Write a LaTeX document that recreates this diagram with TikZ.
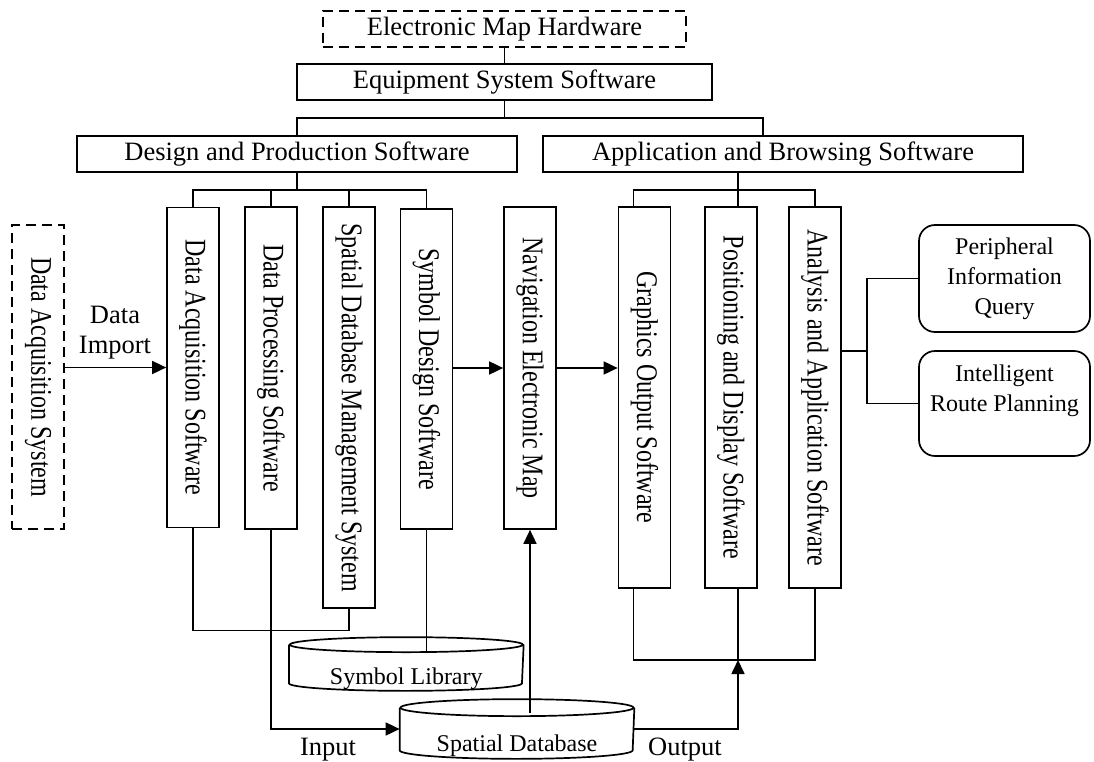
\documentclass[tikz,border=0pt]{standalone}
\usepackage{graphicx}
\usepackage{fontspec}
\setmainfont{Liberation Serif}
\usetikzlibrary{arrows.meta, calc}

% text running down a tall box
\newcommand{\vtext}[1]{\rotatebox{-90}{\fontsize{24}{28}\selectfont\scalebox{1}[1.25]{#1}}}

\begin{document}
\begin{tikzpicture}[
  x=1pt, y=-1pt,
  line width=1.7pt,
  every node/.style={font=\fontsize{26.5}{30}\selectfont, inner sep=0pt},
  small/.style={font=\fontsize{24}{30}\selectfont},
  box/.style={rectangle, draw, minimum height=36, align=center},
  vbox/.style={rectangle, draw, minimum width=52},
  rbox/.style={rectangle, draw, rounded corners=16pt, minimum width=171, align=center, small},
  dashy/.style={dash pattern=on 10pt off 6pt},
  arr/.style={-{Triangle[length=14pt, width=13pt]}}
]
\useasboundingbox (0,0) rectangle (1094,762);

% Top hierarchy
\node[box, dashy, minimum width=363] (hw) at (504.5,29) {Electronic Map Hardware};
\node[box, minimum width=415] (equip) at (504.5,82) {Equipment System Software};
\node[box, minimum width=440] (design) at (297,154) {Design and Production Software};
\node[box, minimum width=480] (app) at (783,154) {Application and Browsing Software};

% Vertical modules
\node[vbox, dashy, minimum height=304] (dasys) at (38,377) {\vtext{Data Acquisition System}};
\node[vbox, minimum height=320] (dacq) at (193,367.5) {\vtext{Data Acquisition Software}};
\node[vbox, minimum height=322] (dproc) at (271,368) {\vtext{Data Processing Software}};
\node[vbox, minimum height=401] (sdms) at (349,407.5) {\vtext{Spatial Database Management System}};
\node[vbox, minimum height=320] (symdes) at (426.5,369) {\vtext{Symbol Design Software}};
\node[vbox, minimum height=322] (nav) at (530,368) {\vtext{Navigation Electronic Map}};
\node[vbox, minimum height=381] (gout) at (644.5,397.5) {\vtext{Graphics Output Software}};
\node[vbox, minimum height=381] (posdisp) at (731,397.5) {\vtext{Positioning and Display Software}};
\node[vbox, minimum height=381] (anal) at (815,397.5) {\vtext{Analysis and Application Software}};

% Functions
\node[rbox, minimum height=107] (peri) at (1004.5,278.5) {Peripheral\\Information\\Query};
\node[rbox, minimum height=105] (route) at (1004.5,403.5) {Intelligent\\Route Planning\\\mbox{}};

% Databases
\node[minimum width=233, minimum height=37] (symlib) at (406.3,664) {};
\draw (symlib.north west) -- (symlib.south west)
  arc[start angle=180, end angle=360, x radius=116.5pt, y radius=7.5pt] -- (symlib.north east);
\draw (symlib.north) ellipse[x radius=116.5pt, y radius=7.5pt];
\node[small, anchor=base] (symlibtxt) at (406.3,684) {Symbol Library};

\node[minimum width=233, minimum height=41] (spdb) at (517,729) {};
\draw (spdb.north west) -- (spdb.south west)
  arc[start angle=180, end angle=360, x radius=116.5pt, y radius=8.5pt] -- (spdb.north east);
\draw (spdb.north) ellipse[x radius=116.5pt, y radius=8.5pt];
\node[small, anchor=base] (spdbtxt) at (517,751) {Spatial Database};

% Labels
\node[align=center] (imp) at (115,333) {Data\\Import};
\node[anchor=base] (inlbl) at (328,755) {Input};
\node[anchor=base] (outlbl) at (685,755) {Output};

% Tree connectors
\coordinate (tbus) at (504.5,118);
\coordinate (dbus) at (297,190);
\coordinate (abus) at (738,190);
\draw (hw) -- (equip);
\draw (equip.south) -- (tbus);
\draw (design.north) |- (tbus) -| ([xshift=-20pt]app.north);
\draw (design.south) -- (dbus);
\draw (dacq.north) |- (dbus) -| (symdes.north);
\draw (dproc.north) |- (dbus);
\draw (sdms.north) |- (dbus);
\draw ([xshift=-45pt]app.south) -- ([xshift=7pt]posdisp.north);
\draw ([xshift=-11pt]gout.north) |- (abus) -| (anal.north);

% Data flow
\draw[arr] (dasys.east |- dacq.west) -- (dacq.west);
\draw[arr] (symdes.east |- nav.west) -- (nav.west);
\draw[arr] (nav.east) -- (nav.east -| gout.west);
\draw (dacq.south) -- ++(0,102) -| (sdms.south);
\draw[arr] (dproc.south) |- (spdb.west);
\draw (symdes.south) -- ([yshift=-7pt]symdes.south |- symlib.north);
\draw[arr] ([yshift=-5pt]spdb.north -| nav.south) -- (nav.south);

% Output bus
\coordinate (obus) at (738,660);
\draw ([xshift=-11pt]gout.south) |- (obus) -| (anal.south);
\draw ([xshift=7pt]posdisp.south) -- (obus);
\draw[arr] (spdb.east) -| (obus);

% Right branch
\coordinate (rbus) at (867,351);
\draw ([yshift=46.5pt]anal.east) -- (rbus);
\draw (peri.west) -| (rbus) |- (route.west);

\end{tikzpicture}
\end{document}
